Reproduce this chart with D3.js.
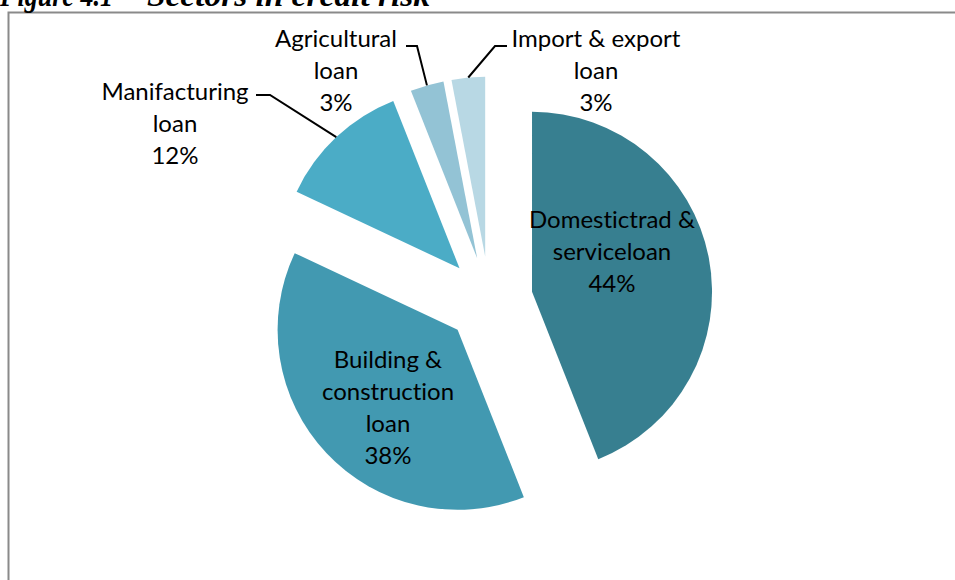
<!DOCTYPE html>
<html>
<head>
<meta charset="utf-8">
<script src="https://cdn.jsdelivr.net/npm/d3@7"></script>
<style>
  html, body { margin: 0; padding: 0; background: #fff; }
  svg { display: block; }
  text { font-variant-ligatures: none; font-feature-settings: "liga" 0; }
</style>
</head>
<body>
<svg id="chart" width="955" height="580"></svg>
<script>
// ---- data ----
const categories = [
  "Domestictrad & serviceloan",
  "Building & construction loan",
  "Manifacturing loan",
  "Agricultural loan",
  "Import & export loan"
];
const values = [44, 38, 12, 3, 3];
const labelLines = [
  ["Domestictrad &", "serviceloan"],
  ["Building &", "construction", "loan"],
  ["Manifacturing", "loan"],
  ["Agricultural", "loan"],
  ["Import & export", "loan"]
];
const colors = ["#377F90", "#4299B1", "#4BACC6", "#93C3D5", "#B8D8E4"];

// ---- layout ----
const W = 955, H = 580;
const cx = 489.3, cy = 300, R = 180, explode = 43.5;
const lineH = 32;
// label anchor (center x, first baseline y) and leader stub
const labelLayout = [
  { x: 612, y: 228, leader: null },
  { x: 388, y: 368, leader: null },
  { x: 175, y: 100, leader: { x0: 256, x1: 270, y: 95 } },
  { x: 336, y: 47, leader: { x0: 406, x1: 417, y: 46 } },
  { x: 596, y: 47, leader: { x0: 507, x1: 495, y: 46 } }
];

const svg = d3.select("#chart");

// frame
svg.append("rect")
  .attr("x", 8.5).attr("y", 12.5)
  .attr("width", 1000).attr("height", 700)
  .attr("fill", "none").attr("stroke", "#8a8a8a").attr("stroke-width", 2);

// title (partly cut off at the top, as in the source)
const titleFont = "'Liberation Serif', 'Times New Roman', serif";
[["Figure 4.1", 0, 113], ["Sectors in credit risk", 147, 283]].forEach(([s, x, len]) => {
  svg.append("text")
    .attr("x", x).attr("y", 6)
    .attr("font-family", titleFont)
    .attr("font-weight", "bold").attr("font-style", "italic")
    .attr("font-size", 31).attr("fill", "#000")
    .attr("textLength", len).attr("lengthAdjust", "spacingAndGlyphs")
    .text(s);
});

const pie = d3.pie().sort(null).value(d => d)(values);
const arc = d3.arc().innerRadius(0).outerRadius(R);

const g = svg.append("g").attr("transform", `translate(${cx},${cy})`);

const slices = pie.map((p, i) => {
  const mid = (p.startAngle + p.endAngle) / 2;
  const dx = Math.sin(mid) * explode, dy = -Math.cos(mid) * explode;
  return { p, i, mid, dx, dy };
});

g.selectAll("path.slice").data(slices).join("path")
  .attr("class", "slice")
  .attr("transform", d => `translate(${d.dx},${d.dy})`)
  .attr("d", d => arc(d.p))
  .attr("fill", d => colors[d.i]);

// leader lines
slices.forEach(d => {
  const L = labelLayout[d.i].leader;
  if (!L) return;
  const ex = cx + d.dx + Math.sin(d.mid) * R;
  const ey = cy + d.dy - Math.cos(d.mid) * R;
  svg.append("polyline")
    .attr("points", `${L.x0},${L.y} ${L.x1},${L.y} ${ex},${ey}`)
    .attr("fill", "none").attr("stroke", "#000").attr("stroke-width", 2)
    .attr("stroke-linejoin", "miter");
});

// labels
const total = d3.sum(values);
slices.forEach(d => {
  const lay = labelLayout[d.i];
  const lines = labelLines[d.i].concat([Math.round(values[d.i] / total * 100) + "%"]);
  const t = svg.append("text")
    .attr("font-family", "Lato, 'Open Sans', sans-serif")
    .attr("font-size", 24).attr("fill", "#000")
    .attr("text-anchor", "middle");
  lines.forEach((s, k) => {
    t.append("tspan").attr("x", lay.x).attr("y", lay.y + k * lineH).text(s);
  });
});
</script>
</body>
</html>
